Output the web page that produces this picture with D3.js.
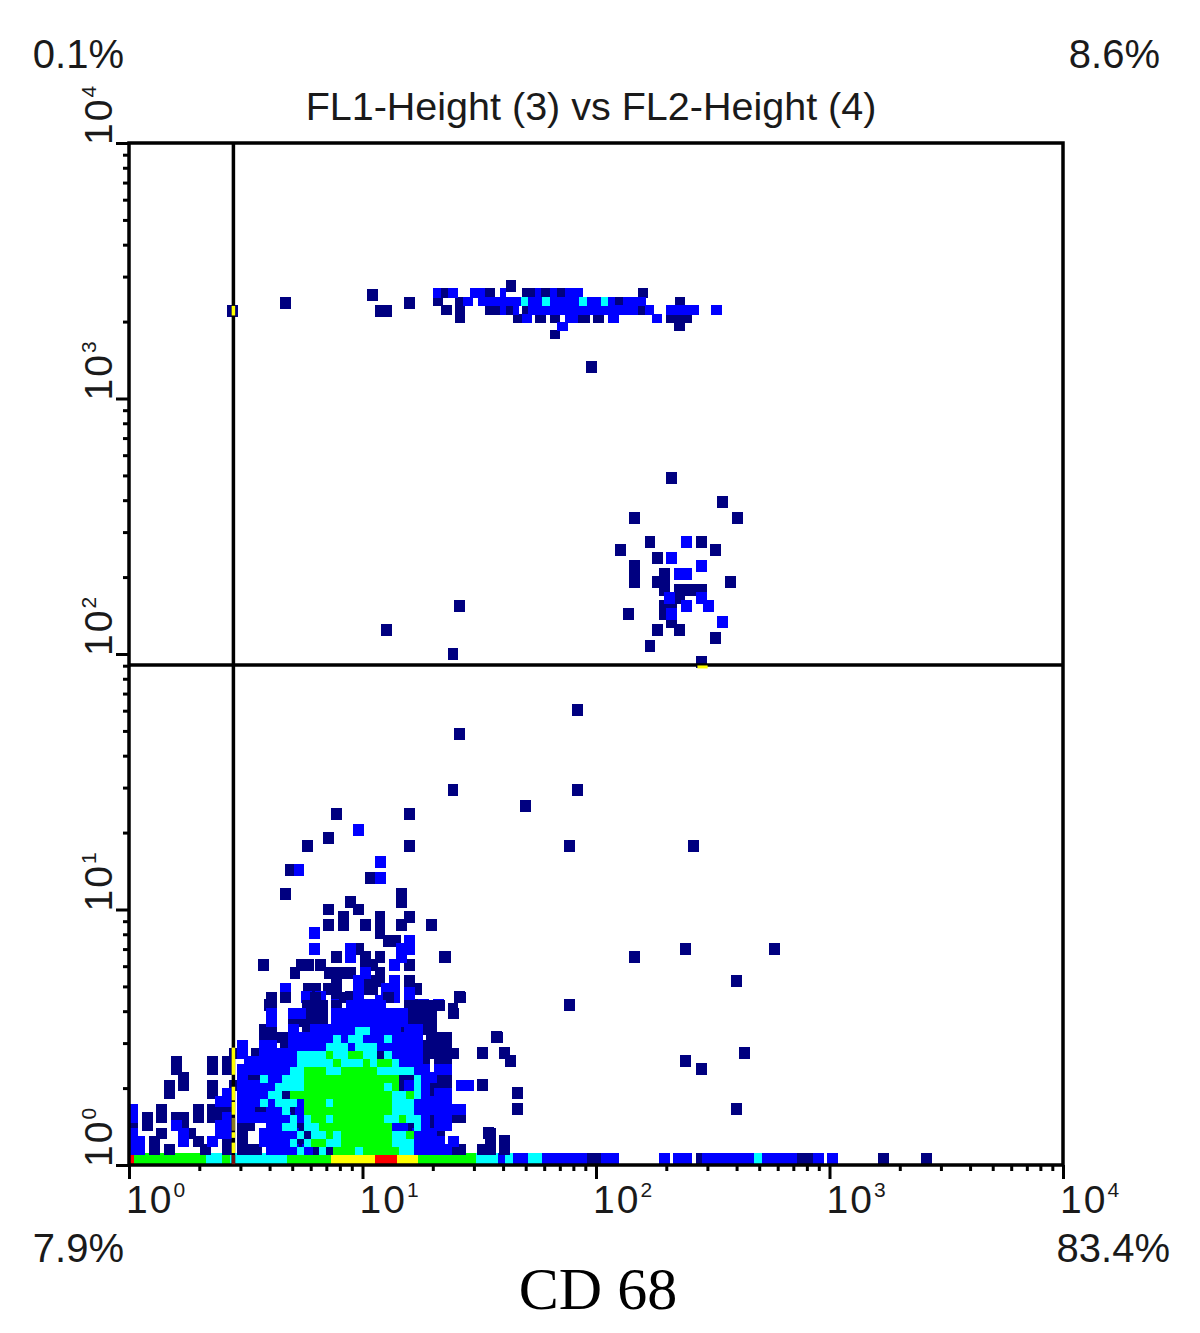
<!DOCTYPE html>
<html><head><meta charset="utf-8">
<style>html,body{margin:0;padding:0;background:#fff}svg{display:block}</style>
<script src="https://cdn.jsdelivr.net/npm/d3@7"></script>
</head><body><div id="chart"></div>
<script>
// Axis labels and text
const titleText = "FL1-Height (3) vs FL2-Height (4)";
const captionText = "CD 68";
const quadrantLabels = ["0.1%", "8.6%", "7.9%", "83.4%"];
const decades = [1, 10, 100, 1000, 10000];
const decadeExponents = ["0", "1", "2", "3", "4"];
const gateFL1 = 2.8;
const gateFL2 = 90.6;

// Density levels
const levelColors = {n:"#000080", b:"#0000ff", c:"#00ffff", g:"#00ff00", y:"#ffff00", r:"#ff0000"};
const levelOrder = ["n", "b", "c", "g", "y", "r"];

// Events piled on the lowest FL2 channel, as runs of FL1 bins on a 128 bin grid
const baseRun = "0-0.7r 0.7-10.6g 10.6-12.7c 12.7-13.8g 13.8-21.6c 21.6-27.7g 27.7-33.7y 33.7-36.7r 36.7-39.6y 39.6-47.6g 47.6-50.6c 50.6-51.5b 51.5-52.6c 52.6-54.7b 54.7-56.6c 56.6-62.7b 62.7-64.7n 64.7-67.2b 72.7-74.1b 74.5-77.1b 77.7-78.5n 78.5-85.6b 85.6-86.7c 86.7-91.6b 91.6-93.7n 93.7-95.2b 95.6-97.1b 102.7-104.1n 108.6-110.1n";

// Main population: row index 1..20 from the bottom
const coreRows = [
"0-2b 3-4n 5-6n 10-11n 13-14n 15-18n 19-22b 22-23b 23-24c 24-25b 25-26n 26-27c 27-28n 28-31g 31-32c 32-37g 37-39c 39-44b 44-46n 48-50n 51-52n",
"0-2b 3-4n 7-8b 9-10n 11-12b 13-14n 15-16n 18-22b 22-23c 23-24n 24-25c 25-27g 27-29c 29-36g 36-39c 39-43b 44-45b 49-50n 51-52n",
"0-1b 4-5n 7-8b 8-9n 12-14b 15-16n 18-23b 23-24c 24-25n 25-27c 27-28g 28-29c 29-36g 36-38c 38-39g 39-42b 42-43n 49-50n",
"0-1n 2-3n 6-7b 7-8n 12-14b 15-17n 19-21b 21-23c 23-24n 24-26c 26-36g 36-38b 38-39n 39-40c 40-41b 41-42n 42-44b",
"0-1b 2-3n 4-5n 6-8n 9-10n 11-13n 13-14b 15-22b 22-23c 23-24b 24-25c 25-27g 27-28c 28-35g 35-37c 37-38g 38-40c 40-41b 41-42n 42-44b 44-46n",
"0-1b 4-5n 9-10n 11-14n 15-17b 17-19n 19-21b 21-22c 22-23n 23-24b 24-36g 36-39c 39-44b 44-46b",
"12-14b 15-18b 18-19c 19-20b 20-23c 23-24b 24-27g 27-28c 28-36g 36-39c 39-44b",
"5-6n 11-12n 13-14b 15-19b 19-21c 21-22n 22-36g 36-38c 38-39g 39-40c 40-41b 41-42n 42-44b",
"5-6n 7-8n 11-12n 14-15n 15-20b 20-24c 24-35g 35-36c 36-37g 37-38n 38-39b 39-40c 40-41b 41-44n 45-47b 48-49n",
"7-8n 15-16b 16-18n 18-19c 19-21b 21-24c 24-37g 37-39n 39-40c 40-42b 42-44n",
"6-7n 11-12n 13-14n 15-22b 22-24c 24-27g 27-29c 29-34g 34-39c 39-41b 42-44b",
"6-7n 11-12n 13-14n 16-23b 23-28c 28-29g 29-32c 32-33g 33-34c 34-36g 36-37c 37-40b 40-41n 42-44n",
"14-15n 15-16b 17-18n 18-23b 23-27c 27-28g 28-30c 30-32g 32-34c 34-35n 35-36c 36-40b 40-45n 48-49n 51-52n",
"15-16b 18-20b 21-22n 22-27b 27-30c 30-31b 31-34c 34-40b 40-44n",
"18-22n 22-28b 28-29c 29-30b 30-32c 32-35b 35-36c 36-40b 41-44n 50-51n",
"18-20n 22-23b 24-25n 25-31b 31-33c 33-37b 37-38n 38-40b 40-42n",
"19-20b 22-27n 28-38b 38-42n",
"19-20b 22-24b 24-27n 28-38b 38-42n 44-45n",
"19-20n 24-27n 28-29n 30-35b 38-43n",
"19-20n 21-22n 25-26n 29-30n 35-36n 45-46n"
];

// Upper band of events, rows at fractional FL2 bins
const stripRowBins = [109.3, 108.6, 107.55, 106.5, 105.4, 104.4, 103.4];
const stripRows = [
"51.7-53.1n",
"41.7-42.7b 42.7-43.7n 43.7-45.1b 46.7-48.8b 48.8-50.1n 50.8-51.7b 53.8-55.6n 55.6-56.5b 56.5-57.7n 57.7-58.6b 58.6-59.7n 59.7-62.2b 69.8-71.1n",
"41.7-43n 44.7-45.8n 45.8-47.2b 47.85-53.7b 53.7-54.7c 54.7-56.6b 56.6-57.7c 57.7-61.7b 61.7-62.7c 62.7-64.7b 64.7-65.7c 65.7-66.6b 66.6-67.7n 67.7-70.9b 74.8-76.2n",
"42.7-44.2n 44.7-46n 48.8-50.8n 50.8-51.7b 51.7-52.6n 52.6-53.5b 53.8-54.7n 54.7-69.8b 69.8-70.7n 70.7-72b 73.65-78.1b 79.7-81.2b",
"44.7-46n 52.6-53.8n 53.8-55.2b 55.6-57.2n 57.7-59.1n 59.7-61.5b 61.5-63.2n 63.6-65.1n 65.7-67.1b 71.7-73.1b 73.65-77.1n",
"58.6-60.1b 74.7-76.2n",
"57.7-59.1n"
];

// Scattered events [FL1 bin, FL2 bin]
const navyEvents = [
[21.4,108],[14.2,107],[33.4,109],[34.4,107],[35.3,107],[38.4,108],[63.4,100],
[74.4,86],[81.4,83],[69.3,81],[83.4,81],[71.4,78],[78.4,78],[67.4,77],[80.4,77],[72.4,76],[69.3,75],[69.3,74],[69.3,73],[73.4,74],[72.4,73],[73.4,73],[73.4,72],[82.4,73],[75.4,72],[76.4,72],[77.4,72],[78.4,72],[75.4,71],[73.4,70],[74.3,69.5],[73.4,69],[68.4,69],[74.3,68],[72.4,67],[75.4,67],[80.4,66],[71.4,65],[78.4,63],
[35.3,67],[45.3,70],[44.4,64],
[61.4,57],[45.3,54],[44.4,47],[61.4,47],[54.4,45],[60.4,40],[77.3,40],[69.3,26],[76.3,27],[88.4,27],[83.3,23],[60.4,20],[84.4,14],[76.3,13],[78.4,12],[83.3,7],
[50.3,16],[48.4,14],[52.3,13],[51.4,14],[53.3,9],[53.3,7],[48.4,10],[43.3,26],[45.3,21],[49.3,4],[51.4,3],
[28.4,44],[38.4,44],[27.4,41],[24.4,40],[38.4,40],[22.15,37],[33.15,36],[21.4,34],[37.4,34],[37.4,33],[30.4,33],[27.4,32],[31.4,32],[29.4,31],[29.4,30],[34.4,31],[38.4,31],[27.4,30],[32.4,30],[34.4,30],[37.4,30],[41.4,30],[34.4,29],[35.5,28],[36.5,28],[31.4,27],[28.4,26],[32.4,26],[34.4,26],[43.4,26],[38.4,25],[18.4,25],[23.6,25],[24.6,25],[26.2,25],[22.75,24],[32.4,25],[33.4,25],[27.5,24],[28.4,24],[29.4,24],[30.3,24],[34.4,24],[28.4,23],[32.4,23],[33.4,23],[34.4,23],[38.4,23],[24.6,22],[25.5,22],[27.4,22],[28.4,22],[32.4,22],[33.4,22],[39.4,22],[21.4,21],[28.4,21],[30.4,21],[45.3,21],[19.3,20],[25.5,20],[39.4,20],[44.4,19.5]
];
const blueEvents = [
[76.4,78],[74.4,76],[78.4,75],[75.5,74],[76.4,74],[74.1,71],[76.4,70],[78.4,71],[79.4,70],[74.4,69],[81.4,68],
[31.4,42],[34.5,38],[23.3,37],[34.5,36],[25.4,29],[25.4,27],[30.4,27],[38.4,28],[37.4,27],[38.4,27],[30.4,26],[37.4,26],[36.4,25],[36.4,23],[21.4,22],[31.4,23],[31.4,22],[32.4,24],[35.3,22],[36.4,22],[38.4,21.5],[24.3,21],[26.2,21],[28.4,20],[31.4,21],[32.4,20],[33.4,20],[34.4,20.5],[35.3,21],[36.4,21],[38.4,20],[40.3,20],[42.4,20]
];

// Events hidden under the gate lines, [bin from, bin to, level]
const verticalGateHits = [[1.5,2.8,"y"],[3.4,4.1,"y"],[4.3,5.9,"o"],[6.3,7.9,"y"],[8.1,9.8,"y"],[11.3,14.7,"y"],[106.4,107.6,"y"],[0.1,1.25,"d"]];
const horizontalGateHits = [[77.9,79.3,"y"]];
const hitColors = {y:"#ffff00", o:"#8a7a20", d:"#7a1010"};

const W = 1200, H = 1333;
const plotL = 129, plotR = 1063, plotT = 143, plotB = 1165;
const svg = d3.select("#chart").append("svg").attr("width", W).attr("height", H);

const xLog = d3.scaleLog().domain([1, 10000]).range([plotL, plotR]);
const yLog = d3.scaleLog().domain([1, 10000]).range([plotB, plotT]);
const binX = d3.scaleLinear().domain([0, 128]).range([plotL, plotR]);
const binY = d3.scaleLinear().domain([0, 128]).range([plotB, plotT]);

function parseRuns(text, rowBin, rowSize) {
  return text.split(" ").map(t => {
    const m = t.match(/^([\d.]+)-([\d.]+)([a-z])$/);
    return {from:+m[1], to:+m[2], level:m[3], rowBin, rowSize};
  });
}
const coreRuns = [];
coreRows.forEach((t, i) => coreRuns.push(...parseRuns(t, i + 1.25, 1)));
coreRuns.sort((a, b) => levelOrder.indexOf(a.level) - levelOrder.indexOf(b.level));
// low-density events occupy a block that is half a bin larger than the grid step
coreRuns.forEach(d => {
  if (d.level === "n" || d.level === "b") {
    d.from = Math.max(0, d.from - 0.25);
    d.to += 0.25;
    d.rowSize = 1.4;
  }
});
const stripRuns = [];
stripRows.forEach((t, i) => stripRuns.push(...parseRuns(t, stripRowBins[i], i === 0 ? 1.5 : 1.2)));
stripRuns.sort((a, b) => levelOrder.indexOf(a.level) - levelOrder.indexOf(b.level));

const marks = svg.append("g").attr("shape-rendering", "crispEdges");
const blockSize = 1.5;
function drawEvents(list, level) {
  marks.append("g").selectAll("rect").data(list).join("rect")
    .attr("x", d => binX(d[0] - blockSize / 2))
    .attr("y", d => binY(d[1] + blockSize / 2))
    .attr("width", binX(blockSize) - binX(0))
    .attr("height", binY(0) - binY(blockSize))
    .attr("fill", levelColors[level]);
}
function drawRuns(list) {
  marks.append("g").selectAll("rect").data(list).join("rect")
    .attr("x", d => binX(d.from))
    .attr("y", d => binY(d.rowBin + d.rowSize))
    .attr("width", d => binX(d.to) - binX(d.from))
    .attr("height", d => binY(0) - binY(d.rowSize))
    .attr("fill", d => levelColors[d.level]);
}
drawEvents(navyEvents, "n");
drawEvents(blueEvents, "b");
drawRuns(parseRuns(baseRun, 0, 1.45));
drawRuns(coreRuns);
drawRuns(stripRuns);

// frame
const ink = "#000";
const lineW = 3.5;
svg.append("rect").attr("x", plotL).attr("y", plotT).attr("width", plotR - plotL).attr("height", plotB - plotT)
  .attr("fill", "none").attr("stroke", ink).attr("stroke-width", lineW);

// gates
svg.append("line").attr("x1", xLog(gateFL1)).attr("x2", xLog(gateFL1)).attr("y1", plotT).attr("y2", plotB)
  .attr("stroke", ink).attr("stroke-width", lineW);
svg.append("line").attr("x1", plotL).attr("x2", plotR).attr("y1", yLog(gateFL2)).attr("y2", yLog(gateFL2))
  .attr("stroke", ink).attr("stroke-width", lineW);
svg.append("g").selectAll("rect").data(verticalGateHits).join("rect")
  .attr("x", xLog(gateFL1) - 1.75).attr("width", lineW)
  .attr("y", d => binY(d[1])).attr("height", d => binY(d[0]) - binY(d[1]))
  .attr("fill", d => hitColors[d[2]]);
svg.append("g").selectAll("rect").data(horizontalGateHits).join("rect")
  .attr("x", d => binX(d[0])).attr("width", d => binX(d[1]) - binX(d[0]))
  .attr("y", yLog(gateFL2) + 0.5).attr("height", 3)
  .attr("fill", d => hitColors[d[2]]);

// axes
const minorTicks = [];
decades.slice(0, -1).forEach(d => { for (let k = 2; k <= 9; k++) minorTicks.push(d * k); });
function styleAxis(g) {
  g.select(".domain").remove();
  g.selectAll("line").attr("stroke", ink).attr("stroke-width", 3);
}
svg.append("g").attr("transform", `translate(0,${plotB})`)
  .call(d3.axisBottom(xLog).tickValues(minorTicks).tickSize(6).tickFormat("")).call(styleAxis);
svg.append("g").attr("transform", `translate(0,${plotB})`)
  .call(d3.axisBottom(xLog).tickValues(decades).tickSize(14).tickFormat("")).call(styleAxis);
svg.append("g").attr("transform", `translate(${plotL},0)`)
  .call(d3.axisLeft(yLog).tickValues(minorTicks).tickSize(6).tickFormat("")).call(styleAxis);
svg.append("g").attr("transform", `translate(${plotL},0)`)
  .call(d3.axisLeft(yLog).tickValues(decades).tickSize(13).tickFormat("")).call(styleAxis);

const sans = "'Liberation Sans', Arial, sans-serif";
const txtFill = "#1a1a1a";
function powerLabel(sel) {
  sel.attr("font-family", sans).attr("fill", txtFill).attr("font-size", 39);
  sel.append("tspan").attr("letter-spacing", 2).text("10");
  sel.append("tspan").attr("font-size", 21).attr("dy", -16).text((d, i) => decadeExponents[i]);
}
svg.append("g").selectAll("text").data(decades).join("text")
  .attr("x", d => xLog(d) - 3).attr("y", 1213).call(powerLabel);
svg.append("g").selectAll("text").data(decades).join("text")
  .attr("transform", d => `translate(112,${yLog(d) + 2}) rotate(-90)`).call(powerLabel);

const qPos = [[124,68],[1160,68],[124,1262],[1170,1262]];
svg.append("g").selectAll("text").data(quadrantLabels).join("text")
  .attr("x", (d, i) => qPos[i][0]).attr("y", (d, i) => qPos[i][1])
  .attr("text-anchor", "end").attr("font-family", sans).attr("font-size", 40).attr("fill", txtFill).text(d => d);

svg.append("text").attr("x", 591).attr("y", 120).attr("text-anchor", "middle")
  .attr("font-family", sans).attr("font-size", 39.5).attr("fill", txtFill).text(titleText);
svg.append("text").attr("x", 598).attr("y", 1309).attr("text-anchor", "middle")
  .attr("font-family", "'Liberation Serif','Times New Roman',serif").attr("font-size", 60).attr("fill", "#000").text(captionText);
</script></body></html>
